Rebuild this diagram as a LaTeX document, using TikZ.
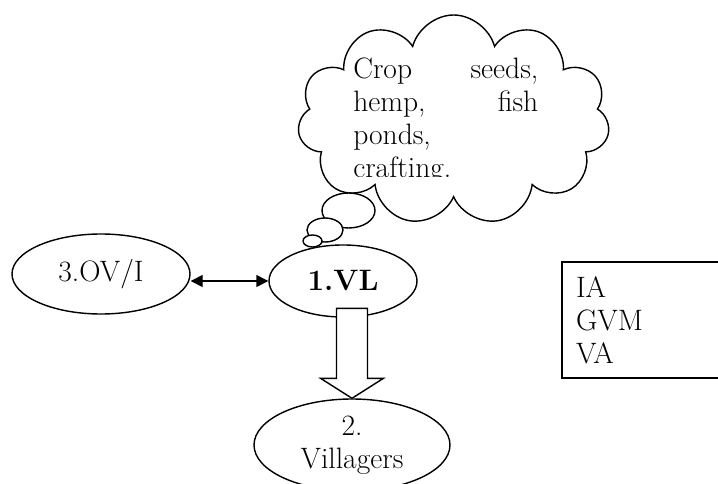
\documentclass[tikz,border=0pt]{standalone}
\usetikzlibrary{shapes.geometric,shapes.symbols,arrows.meta}
\tikzset{
  actor/.style={ellipse, draw, line width=1pt, fill=white, inner sep=0pt},
  puff/.style={ellipse, draw, line width=1pt, fill=white, inner sep=0pt},
  link/.style={line width=1pt, {Triangle[length=3mm, width=3mm]}-{Triangle[length=3mm, width=3mm]}}
}
\begin{document}
\begin{tikzpicture}[font=\fontsize{21}{23.4}\selectfont]
\useasboundingbox (0cm, 0cm) rectangle (17.95cm, -12.1cm);

\node at (11.34cm, -3cm) [cloud, cloud puffs=11, cloud ignores aspect, draw, line width=1pt, minimum width=7.8cm, minimum height=5.25cm] (idea) {};
\begin{scope}
\clip (8.5cm, -1cm) rectangle (14cm, -4.42cm);
\node at (8.825cm, -1.45cm) [anchor=north west, inner sep=0pt, text width=4.625cm, align=left] (ideatext) {Crop\hfill seeds,\\ hemp,\hfill fish\\ ponds,\\ crafting.};
\end{scope}

\node at (8.7125cm, -5.2625cm) [puff, minimum width=1.325cm, minimum height=0.875cm] (puff1) {};
\node at (8.125cm, -5.75cm) [puff, minimum width=0.9cm, minimum height=0.6cm] (puff2) {};
\node at (7.8125cm, -6.025cm) [puff, minimum width=0.475cm, minimum height=0.3cm] (puff3) {};

\node at (2.525cm, -6.85cm) [actor, minimum width=4.45cm, minimum height=2cm] (OVI) {3.OV/I};
\node at (8.575cm, -7.025cm) [actor, minimum width=3.7cm, minimum height=1.8cm] (VL) {\bfseries 1.VL};
\node at (8.8cm, -11.125cm) [actor, minimum width=4.9cm, minimum height=2.3cm, align=center] (villagers) {2.\\Villagers};

\node at (14.025cm, -6.525cm) [anchor=north west, draw, line width=1.5pt, minimum height=2.9cm, text width=4.3cm, inner xsep=0.35cm, align=left] (roles) {IA\\GVM\\VA};

\draw[link] (VL.west -| OVI.east) -- (VL.west);
\draw[line width=1pt, fill=white] (villagers.north) -- ++(-0.7875, 0.5) -- ++(0.4, 0) -- ++(0, 1.75) -- ++(0.775, 0) -- ++(0, -1.75) -- ++(0.4, 0) -- cycle;
\end{tikzpicture}
\end{document}
